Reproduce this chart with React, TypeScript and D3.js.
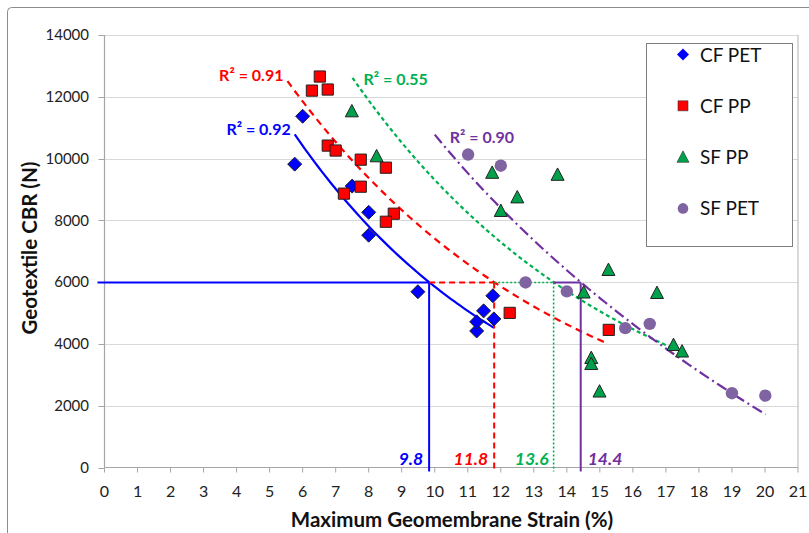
import React from 'react';
import * as d3 from 'd3';

const W = 809;
const H = 533;

// ---------- data ----------
const seriesNames = ['CF PET', 'CF PP', 'SF PP', 'SF PET'];

const cfPetStrain = [5.76, 6.0, 7.5, 8.0, 8.0, 9.49, 11.27, 11.27, 11.48, 11.79, 11.76];
const cfPetCBR = [9820, 11370, 9110, 8260, 7520, 5690, 4420, 4715, 5070, 4810, 5560];

const cfPpStrain = [6.52, 6.28, 6.76, 6.76, 7.0, 7.76, 8.52, 7.76, 7.25, 8.76, 8.52, 12.27, 15.27];
const cfPpCBR = [12655, 12200, 12235, 10420, 10260, 9965, 9705, 9090, 8865, 8215, 7955, 5005, 4455];

const sfPpStrain = [7.49, 8.24, 11.74, 12.5, 12.0, 13.72, 15.26, 14.51, 14.74, 14.74, 14.99, 16.73, 17.23, 17.49];
const sfPpCBR = [11535, 10080, 9545, 8750, 8310, 9480, 6400, 5670, 3550, 3355, 2465, 5655, 3970, 3760];

const sfPetStrain = [11.01, 12.0, 12.75, 14.0, 15.77, 16.51, 19.0, 20.01];
const sfPetCBR = [10130, 9770, 5990, 5700, 4510, 4650, 2405, 2325];

// trendlines (type, coefficients and x-range)
const trendTypes = ['exp', 'exp', 'exp', 'log'];
const trendA = [24712, 23965, 31533, 40812];
const trendB = [-0.144, -0.11736, -0.122, -13045];
const trendStart = [5.76, 5.54, 7.51, 10.0];
const trendEnd = [11.79, 15.24, 17.3, 20.02];
const r2Labels = ['R² = 0.92', 'R² = 0.91', 'R² = 0.55', 'R² = 0.90'];

// design-load read-off
const designCBR = 6000;
const strainAtDesign = [9.83, 11.8, 13.6, 14.42];
const strainLabels = ['9.8', '11.8', '13.6', '14.4'];

const xTickValues = d3.range(0, 22, 1);
const yTickValues = d3.range(0, 14001, 2000);

const xAxisTitle = 'Maximum Geomembrane Strain (%)';
const yAxisTitle = 'Geotextile CBR (N)';

// ---------- styles ----------
const FONT = 'Lato, "Open Sans", "DejaVu Sans", sans-serif';
const markerFill = ['#0000FF', '#FF0000', '#00A14B', '#8064A2'];
const lineColor = ['#0000FF', '#FF0000', '#00B050', '#7030A0'];
const trendDash = ['', '7,5', '4,3', '11,4,2,4'];
const refDash = ['', '6,4', '2,2', ''];
const refWidth = [2, 2, 1.6, 2];
const r2Offset = [
  { dx: -4, dy: 1, anchor: 'end' },
  { dx: -4, dy: 0, anchor: 'end' },
  { dx: 11, dy: 7, anchor: 'start' },
  { dx: 15, dy: 8, anchor: 'start' },
];
const strainLabelOffset = [
  { dx: -6, anchor: 'end' },
  { dx: -6, anchor: 'end' },
  { dx: -5, anchor: 'end' },
  { dx: 7, anchor: 'start' },
];

const left = 104.5;
const right = 798;
const top = 35;
const bottom = 467.5;

const x = d3.scaleLinear().domain([0, 21]).range([left, right]);
const y = d3.scaleLinear().domain([0, 14000]).range([bottom, top]);

function markerPath(kind: number, cx: number, cy: number, s: number) {
  if (kind === 0) {
    return `M${cx},${cy - s}L${cx + s},${cy}L${cx},${cy + s}L${cx - s},${cy}Z`;
  }
  if (kind === 1) {
    return `M${cx - s},${cy - s}H${cx + s}V${cy + s}H${cx - s}Z`;
  }
  if (kind === 2) {
    const h = s * 1.75;
    return `M${cx},${cy - h / 2 - 1}L${cx + s},${cy + h / 2}L${cx - s},${cy + h / 2}Z`;
  }
  return d3.path().toString();
}

function trendValue(i: number, v: number) {
  return trendTypes[i] === 'exp'
    ? trendA[i] * Math.exp(trendB[i] * v)
    : trendA[i] + trendB[i] * Math.log(v);
}

export default function App() {
  const series = [
    { xs: cfPetStrain, ys: cfPetCBR },
    { xs: cfPpStrain, ys: cfPpCBR },
    { xs: sfPpStrain, ys: sfPpCBR },
    { xs: sfPetStrain, ys: sfPetCBR },
  ];
  const line = d3
    .line<[number, number]>()
    .x((d) => x(d[0]))
    .y((d) => y(d[1]))
    .curve(d3.curveLinear);

  const trendPaths = trendTypes.map((_, i) => {
    const n = 60;
    const pts: [number, number][] = d3
      .range(n + 1)
      .map((k) => {
        const v = trendStart[i] + ((trendEnd[i] - trendStart[i]) * k) / n;
        return [v, trendValue(i, v)] as [number, number];
      });
    return line(pts) || '';
  });

  const yDesign = Math.round(y(designCBR)) + 0.5;
  const refBottom = bottom + 4;

  return (
    <svg
      width={W}
      height={H}
      viewBox={`0 0 ${W} ${H}`}
      style={{ position: 'absolute', left: 0, top: 0, background: '#fff' }}
      fontFamily={FONT}
    >
      <rect x={0} y={0} width={W} height={H} fill="#fff" />
      {/* outer chart border */}
      <rect x={7.5} y={7.5} width={830} height={560} rx={4} fill="none" stroke="#8c8c8c" strokeWidth={1} />

      {/* gridlines */}
      {yTickValues
        .filter((v) => v > 0)
        .map((v) => (
          <line key={'g' + v} x1={left} x2={right} y1={Math.round(y(v)) + 0.5} y2={Math.round(y(v)) + 0.5} stroke="#D9D9D9" strokeWidth={1.2} />
        ))}
      {/* plot right border */}
      <line x1={right} x2={right} y1={top} y2={bottom} stroke="#BFBFBF" strokeWidth={1.2} />

      {/* y axis */}
      <line x1={left} x2={left} y1={top} y2={bottom} stroke="#A6A6A6" strokeWidth={1.2} />
      {yTickValues.map((v) => (
        <g key={'yt' + v}>
          <line x1={left - 6} x2={left} y1={Math.round(y(v)) + 0.5} y2={Math.round(y(v)) + 0.5} stroke="#A6A6A6" />
          <text x={89} y={y(v)} dy="0.35em" textAnchor="end" fontSize={15} fill="#222">
            {v}
          </text>
        </g>
      ))}

      {/* x axis */}
      <line x1={left} x2={right} y1={bottom} y2={bottom} stroke="#A6A6A6" strokeWidth={1.2} />
      {xTickValues.map((v) => (
        <g key={'xt' + v}>
          <line x1={x(v)} x2={x(v)} y1={bottom} y2={bottom + 5} stroke="#A6A6A6" />
          <text x={x(v)} y={497} textAnchor="middle" fontSize={16} fill="#222">
            {v}
          </text>
        </g>
      ))}

      {/* axis titles */}
      <text x={452} y={527} textAnchor="middle" fontSize={20.5} fontWeight="bold" fill="#111">
        {xAxisTitle}
      </text>
      <text
        transform={`translate(37,248) rotate(-90)`}
        textAnchor="middle"
        fontSize={20.5}
        fontWeight="bold"
        fill="#111"
      >
        {yAxisTitle}
      </text>

      {/* trendlines */}
      {trendPaths.map((d, i) => (
        <path key={'tr' + i} d={d} fill="none" stroke={lineColor[i]} strokeWidth={2.2} strokeDasharray={trendDash[i]} />
      ))}
      {r2Labels.map((t, i) => (
        <text
          key={'r2' + i}
          x={x(trendStart[i]) + r2Offset[i].dx}
          y={y(trendValue(i, trendStart[i])) + r2Offset[i].dy}
          textAnchor={r2Offset[i].anchor as any}
          fontSize={16}
          fontWeight="bold"
          fill={lineColor[i]}
        >
          {t}
        </text>
      ))}

      {/* design-load read-off lines */}
      {strainAtDesign.map((s, i) => {
        const x0 = i === 0 ? left - 7 : x(strainAtDesign[i - 1]);
        const x1 = x(s);
        return (
          <g key={'ref' + i}>
            <line x1={x0} x2={x1} y1={yDesign} y2={yDesign} stroke={lineColor[i]} strokeWidth={refWidth[i]} strokeDasharray={refDash[i]} />
            <line x1={x1} x2={x1} y1={yDesign} y2={refBottom} stroke={lineColor[i]} strokeWidth={refWidth[i]} strokeDasharray={refDash[i]} />
            <text
              x={x1 + strainLabelOffset[i].dx}
              y={465}
              textAnchor={strainLabelOffset[i].anchor as any}
              fontSize={17.5}
              fontWeight="bold"
              fontStyle="italic"
              fill={lineColor[i]}
            >
              {strainLabels[i]}
            </text>
          </g>
        );
      })}

      {/* markers */}
      {series.map((sr, i) =>
        sr.xs.map((xv, k) => {
          const cx = x(xv);
          const cy = y(sr.ys[k]);
          if (i === 3) {
            return <circle key={`m${i}-${k}`} cx={cx} cy={cy} r={6.2} fill={markerFill[i]} />;
          }
          const s = i === 0 ? 7 : i === 1 ? 5.6 : 6.5;
          return (
            <path key={`m${i}-${k}`} d={markerPath(i, cx, cy, s)} fill={markerFill[i]} stroke="#222" strokeWidth={1} strokeLinejoin="miter" />
          );
        })
      )}

      {/* legend */}
      <rect x={646.5} y={43.5} width={146} height={203} fill="#fff" stroke="#7F7F7F" strokeWidth={1} />
      {seriesNames.map((nm, i) => {
        const cy = 54.5 + i * 51.3;
        const cx = 683;
        return (
          <g key={'lg' + i}>
            {i === 3 ? (
              <circle cx={cx} cy={cy} r={5.3} fill={markerFill[i]} />
            ) : (
              <path
                d={markerPath(i, cx, cy, i === 0 ? 6 : i === 1 ? 5 : 6)}
                fill={markerFill[i]}
                stroke={i === 0 ? 'none' : '#333'}
                strokeWidth={0.6}
              />
            )}
            <text x={700} y={cy + 7} fontSize={19} fill="#111">
              {nm}
            </text>
          </g>
        );
      })}
    </svg>
  );
}
